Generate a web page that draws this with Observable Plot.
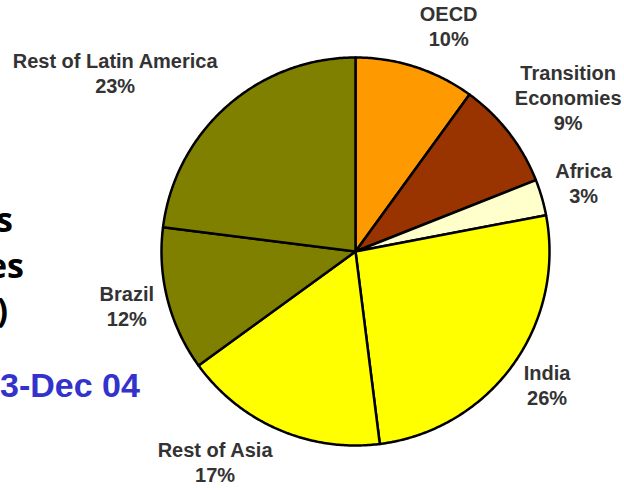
<!DOCTYPE html>
<html>
<head>
<meta charset="utf-8">
<script src="https://cdn.jsdelivr.net/npm/d3@7"></script>
<script src="https://cdn.jsdelivr.net/npm/@observablehq/plot@0.6"></script>
<style>
  html, body { margin: 0; padding: 0; background: #fff; overflow: hidden; }
  #chart { width: 624px; height: 490px; position: relative; }
</style>
</head>
<body>
<div id="chart"></div>
<script>
// ---- data ----
const regions = ["OECD", "Transition Economies", "Africa", "India", "Rest of Asia", "Brazil", "Rest of Latin America"];
const labelLines = ["OECD", "Transition\nEconomies", "Africa", "India", "Rest of Asia", "Brazil", "Rest of Latin America"];
const shares = [10, 9, 3, 26, 17, 12, 23];
const colors = ["#FF9900", "#993300", "#FFFFCC", "#FFFF00", "#FFFF00", "#808000", "#808000"];
const titleFragments = ["s", "es", ")"];
const dateText = "3-Dec 04";

// ---- layout ----
const W = 624, H = 490;
const cx = 355, cy = 251, R = 194;
const gap = 14;
const fontSize = 20;
const labelFont = "bold " + fontSize + "px 'Liberation Sans', Arial, sans-serif";
const lineH = 1.25; // em
const vShift = 4; // px upward

const rows = regions.map((name, i) => ({name, label: labelLines[i], value: shares[i], color: colors[i]}));
const arcs = d3.pie().sort(null).value(d => d.value).startAngle(0).endAngle(2 * Math.PI)(rows);

// polygon points for each slice (angle clockwise from 12 o'clock)
const pts = [];
for (const a of arcs) {
  pts.push({name: a.data.name, x: 0, y: 0});
  const n = Math.max(2, Math.ceil((a.endAngle - a.startAngle) / 0.01));
  for (let k = 0; k <= n; k++) {
    const t = a.startAngle + (a.endAngle - a.startAngle) * k / n;
    pts.push({name: a.data.name, x: Math.sin(t), y: Math.cos(t)});
  }
}

// label positions: near box edge touches a circle of radius R+gap
const ctx = document.createElement("canvas").getContext("2d");
ctx.font = labelFont;
const labels = arcs.map(a => {
  const m = (a.startAngle + a.endAngle) / 2;
  const ux = Math.sin(m), uy = Math.cos(m);
  const lines = a.data.label.split("\n").concat([a.data.value + "%"]);
  const hw = d3.max(lines, l => ctx.measureText(l).width) / 2;
  const hh = lines.length * fontSize * lineH / 2;
  let px = (R + gap) * ux + Math.sign(ux) * hw;
  // keep the label box inside the frame
  px = Math.min(px, (W - 3 - cx) - hw);
  px = Math.max(px, (2 - cx) + hw);
  const py = (R + gap) * uy + uy * hh + vShift;
  return {x: px / R, y: py / R, text: lines.join("\n")};
});

const plot = Plot.plot({
  width: W,
  height: H,
  margin: 0,
  x: {domain: [-1, 1], range: [cx - R, cx + R], axis: null},
  y: {domain: [-1, 1], range: [cy + R, cy - R], axis: null},
  color: {domain: regions, range: colors},
  style: {background: "white", overflow: "visible"},
  marks: [
    Plot.line(pts, {x: "x", y: "y", z: "name", fill: "name", stroke: "black", strokeWidth: 2.5, strokeLinejoin: "round", curve: "linear-closed"}),
    Plot.text(labels, {x: "x", y: "y", text: "text", fontFamily: "'Liberation Sans', Arial, sans-serif", fontSize: fontSize, fontWeight: "bold", fill: "#333", textAnchor: "middle", lineAnchor: "middle", lineHeight: lineH})
  ]
});
document.getElementById("chart").appendChild(plot);

// slide text fragments around the chart
const svg = d3.select(plot);
const frag = [{t: titleFragments[0], x: 13, y: 232}, {t: titleFragments[1], x: 24, y: 278}, {t: titleFragments[2], x: 8, y: 322}];
svg.append("g").selectAll("text").data(frag).join("text")
  .attr("x", d => d.x).attr("y", d => d.y)
  .attr("text-anchor", "end")
  .attr("font-family", "'Open Sans', sans-serif").attr("font-weight", "bold").attr("font-size", 34)
  .attr("fill", "black").text(d => d.t);
svg.append("text").attr("x", 0).attr("y", 397)
  .attr("text-anchor", "start")
  .attr("font-family", "'Liberation Sans', Arial, sans-serif").attr("font-weight", "bold").attr("font-size", 34)
  .attr("fill", "#3333CC").text(dateText);
</script>
</body>
</html>
